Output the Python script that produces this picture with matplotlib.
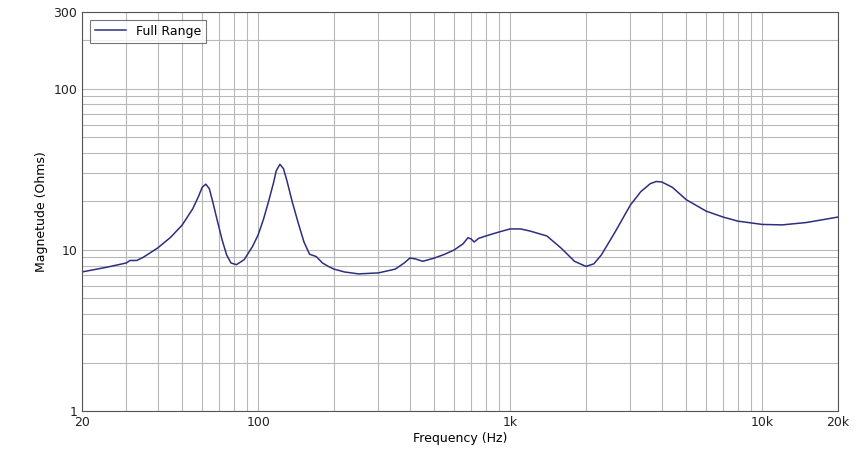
import matplotlib
matplotlib.use("Agg")
import matplotlib.pyplot as plt
from matplotlib.ticker import FixedLocator, NullFormatter, LogLocator

freq = [20, 25, 30, 31, 33, 35, 40, 45, 50, 55, 58, 60, 62, 64, 66, 69, 72, 75, 78, 82, 88, 95, 100, 105, 110, 115, 118, 122, 126, 130, 137, 145, 152, 160, 170, 180, 190, 200, 220, 250, 300, 350, 380, 400, 420, 450, 500, 550, 600, 650, 680, 700, 720, 750, 800, 900, 1000, 1100, 1200, 1400, 1600, 1800, 2000, 2150, 2300, 2600, 3000, 3300, 3600, 3800, 4000, 4400, 5000, 6000, 7000, 8000, 10000, 12000, 15000, 20000]
imp  = [7.3, 7.8, 8.3, 8.6, 8.6, 9.0, 10.3, 12.0, 14.3, 18.0, 21.5, 24.5, 25.6, 24.0, 20.0, 15.0, 11.5, 9.3, 8.3, 8.1, 8.7, 10.5, 12.4, 15.5, 20.0, 26.0, 31.0, 34.0, 32.0, 27.0, 19.5, 14.3, 11.2, 9.4, 9.1, 8.3, 7.9, 7.6, 7.3, 7.1, 7.2, 7.6, 8.3, 8.9, 8.8, 8.5, 8.9, 9.4, 10.0, 10.9, 11.9, 11.7, 11.2, 11.8, 12.2, 12.9, 13.5, 13.5, 13.1, 12.2, 10.2, 8.5, 7.9, 8.2, 9.3, 12.8, 19.0, 23.0, 25.8, 26.6, 26.4, 24.5, 20.5, 17.4, 16.0, 15.1, 14.4, 14.3, 14.8, 16.0]

fig = plt.figure(figsize=(8.56, 4.51), dpi=100)
ax = fig.add_axes([82/856, 40/451, 756/856, 399/451])
ax.plot(freq, imp, color="#2e2e80", lw=1.1, label="Full Range")
ax.set_xscale("log"); ax.set_yscale("log")
ax.set_xlim(20, 20000); ax.set_ylim(1, 300)
ax.xaxis.set_major_locator(FixedLocator([20, 100, 1000, 10000, 20000]))
ax.set_xticklabels(["20", "100", "1k", "10k", "20k"])
ax.yaxis.set_major_locator(FixedLocator([1, 10, 100, 300]))
ax.set_yticklabels(["1", "10", "100", "300"])
ax.xaxis.set_minor_locator(LogLocator(base=10, subs=range(2, 10), numticks=20))
ax.yaxis.set_minor_locator(LogLocator(base=10, subs=range(2, 10), numticks=20))
ax.xaxis.set_minor_formatter(NullFormatter()); ax.yaxis.set_minor_formatter(NullFormatter())
ax.grid(True, which="both", color="#b8b8b8", lw=0.8)
ax.tick_params(which="both", length=0, labelsize=9, colors="#222222")
for s in ax.spines.values():
    s.set_color("#555555")
ax.set_xlabel("Frequency (Hz)", fontsize=9, labelpad=2)
ax.set_ylabel("Magnetude (Ohms)", fontsize=9)
leg = ax.legend(loc="upper left", fontsize=9, fancybox=False, edgecolor="#555555", handlelength=2.5, borderaxespad=0.6)
leg.get_frame().set_linewidth(0.8)
fig.savefig("out.png")
